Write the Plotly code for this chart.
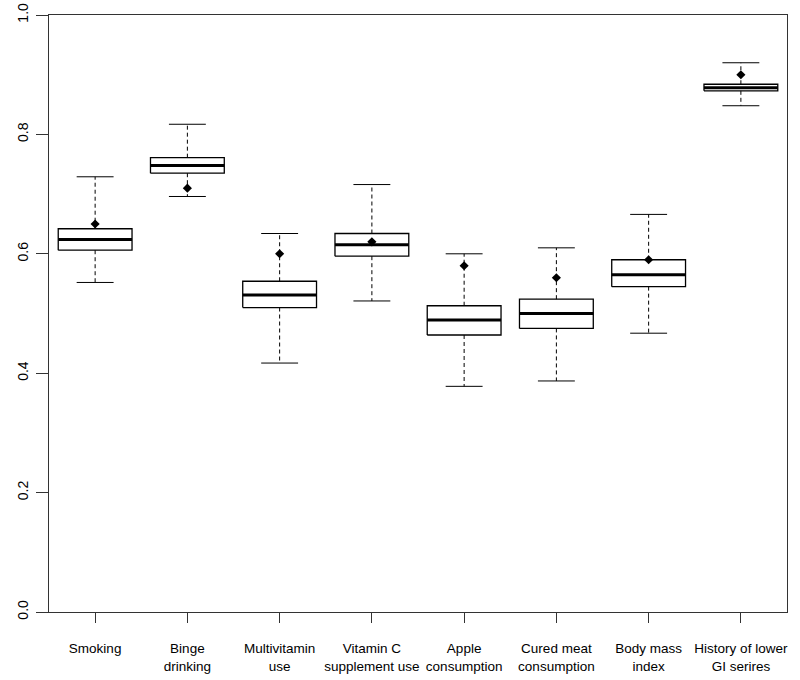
import plotly.graph_objects as go

categories = ["Smoking", "Binge<br>drinking", "Multivitamin<br>use", "Vitamin C<br>supplement use",
              "Apple<br>consumption", "Cured meat<br>consumption", "Body mass<br>index",
              "History of lower<br>GI serires"]
lower = [0.552, 0.696, 0.417, 0.521, 0.378, 0.387, 0.467, 0.848]
q1 = [0.606, 0.735, 0.510, 0.596, 0.464, 0.475, 0.545, 0.873]
median = [0.624, 0.748, 0.531, 0.615, 0.489, 0.500, 0.565, 0.878]
q3 = [0.642, 0.761, 0.554, 0.634, 0.513, 0.524, 0.590, 0.884]
upper = [0.729, 0.817, 0.634, 0.716, 0.600, 0.610, 0.666, 0.920]
observed = [0.65, 0.71, 0.60, 0.62, 0.58, 0.56, 0.59, 0.90]
y_ticks = [0.0, 0.2, 0.4, 0.6, 0.8, 1.0]
y_ticktext = ["0.0", "0.2", "0.4", "0.6", "0.8", "1.0"]

BW = 0.4   # box half width
CW = 0.2   # staple half width
pos = list(range(1, len(categories) + 1))

wx, wy, cx, cy, bx, by, mx, my = [], [], [], [], [], [], [], []
for i, p in enumerate(pos):
    wx += [p, p, None, p, p, None]
    wy += [q3[i], upper[i], None, q1[i], lower[i], None]
    cx += [p - CW, p + CW, None, p - CW, p + CW, None]
    cy += [upper[i], upper[i], None, lower[i], lower[i], None]
    bx += [p - BW, p + BW, p + BW, p - BW, p - BW, None]
    by += [q1[i], q1[i], q3[i], q3[i], q1[i], None]
    mx += [p - BW, p + BW, None]
    my += [median[i], median[i], None]

fig = go.Figure()
fig.add_trace(go.Scatter(x=wx, y=wy, mode="lines",
                         line=dict(color="black", width=1, dash="4px,3px"), hoverinfo="skip"))
fig.add_trace(go.Scatter(x=cx, y=cy, mode="lines",
                         line=dict(color="black", width=1), hoverinfo="skip"))
fig.add_trace(go.Scatter(x=bx, y=by, mode="lines",
                         line=dict(color="black", width=1.3), hoverinfo="skip"))
fig.add_trace(go.Scatter(x=mx, y=my, mode="lines",
                         line=dict(color="black", width=3), hoverinfo="skip"))
fig.add_trace(go.Scatter(x=pos, y=observed, mode="markers",
                         marker=dict(symbol="diamond", size=7, color="black"), hoverinfo="skip"))

fig.update_layout(
    width=800, height=680, autosize=False,
    margin=dict(l=49, r=13, t=15, b=68),
    plot_bgcolor="white", paper_bgcolor="white",
    showlegend=False,
    font=dict(family="Liberation Sans, Arial, sans-serif", color="black"),
)
fig.update_xaxes(
    range=[0.5, 8.5], tickmode="array", tickvals=pos, ticktext=categories,
    ticks="outside", ticklen=10, tickcolor="#333", tickwidth=1,
    showline=True, linecolor="#333", linewidth=1.2, mirror=True, automargin=False,
    showgrid=False, zeroline=False, tickfont=dict(size=13.5), ticklabelstandoff=14,
)
fig.update_yaxes(
    range=[0, 1], tickmode="array", tickvals=y_ticks, ticktext=y_ticktext,
    ticks="outside", ticklen=12, tickcolor="#333", tickwidth=1,
    showline=True, linecolor="#333", linewidth=1.2, mirror=True, automargin=False,
    showgrid=False, zeroline=False, tickangle=-90, tickfont=dict(size=14),
    ticklabelstandoff=2,
)
fig.write_html("out.html", config={"displayModeBar": False},
               post_script="document.body.style.margin='0';document.body.style.overflow='hidden';")
